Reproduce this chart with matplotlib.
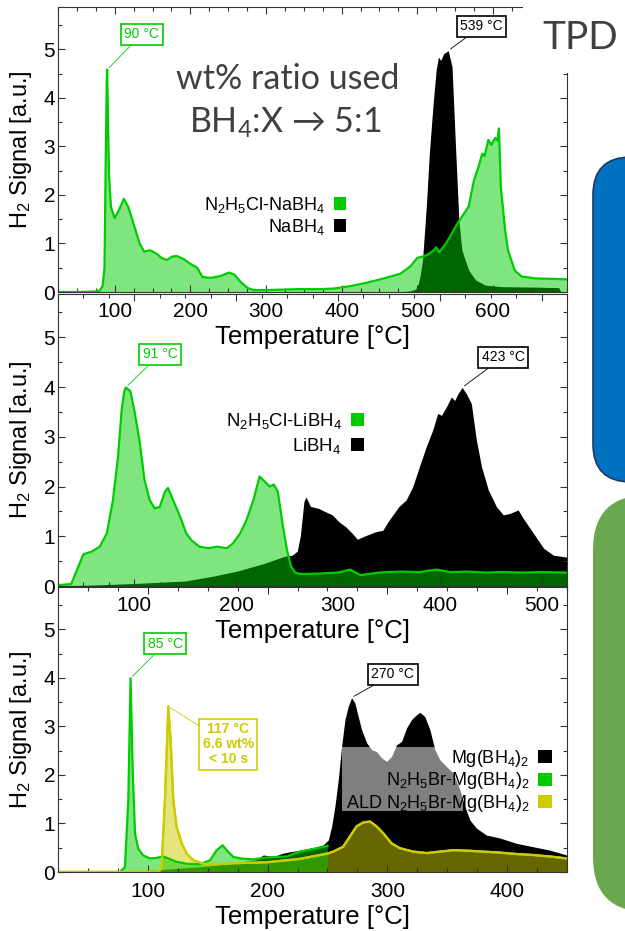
import numpy as np
import matplotlib
matplotlib.use("Agg")
from matplotlib import pyplot as plt
from matplotlib.patches import Rectangle, FancyBboxPatch, Patch
from matplotlib.ticker import MultipleLocator
from matplotlib.transforms import IdentityTransform

plt.rcParams['font.family'] = ['Liberation Sans', 'DejaVu Sans']
plt.rcParams['mathtext.default'] = 'regular'

# ---- data: (temperature [°C], H2 signal [a.u.]) ----
nabh4_hydrazine = [
    (25, 0.0), (50, 0.0), (75, 0.01), (80, 0.03), (84, 0.12), (86.5, 0.5), (88, 2.6),
    (89.5, 4.4), (90, 4.58), (91, 3.6), (92.5, 2.4), (95, 1.75), (100, 1.52), (106, 1.7),
    (112, 1.92), (118, 1.75), (127, 1.3), (133, 1.0), (139, 0.83), (147, 0.86), (156, 0.78),
    (162, 0.7), (169, 0.66), (176, 0.73), (182, 0.74), (191, 0.68), (200, 0.58), (209, 0.5),
    (216, 0.31), (227, 0.29), (240, 0.33), (251, 0.40), (258, 0.36), (267, 0.2), (276, 0.08),
    (284, 0.04), (302, 0.04), (324, 0.05), (344, 0.06), (373, 0.06), (389, 0.07), (411, 0.12),
    (433, 0.19), (456, 0.28), (478, 0.38), (491, 0.53), (500, 0.7), (507, 0.73), (514, 0.77),
    (522, 0.86), (525, 0.92), (529, 0.82), (538, 1.0), (546, 1.21), (552, 1.38), (559, 1.55),
    (568, 1.76), (575, 2.3), (581, 2.58), (586, 2.85), (589, 2.8), (594, 3.13), (598, 3.03),
    (603, 3.17), (606, 3.12), (608, 3.37), (610.5, 2.17), (616, 1.3), (620, 0.86), (629, 0.44),
    (638, 0.32), (656, 0.28), (678, 0.27), (700, 0.26),
]
nabh4 = [
    (25, 0.0), (470, 0.0), (490, 0.02), (498, 0.06), (501, 0.15), (504, 0.35), (507, 0.66),
    (512, 1.76), (516, 2.86), (521, 3.88), (525, 4.57), (528, 4.84), (531, 4.77), (535, 4.91),
    (541, 4.97), (546, 4.64), (550, 3.2), (555, 1.48), (559, 0.86), (568, 0.45), (577, 0.25),
    (590, 0.14), (612, 0.11), (656, 0.10), (687, 0.09), (690, 0.0),
]
libh4_hydrazine = [
    (25, 0.01), (27, 0.02), (38, 0.04), (45, 0.39), (50, 0.64), (58, 0.69), (66, 0.79),
    (73, 1.06), (79, 1.73), (84, 2.6), (87.5, 3.53), (90, 3.9), (91.5, 3.99), (96, 3.92),
    (100, 3.53), (105, 2.93), (110, 2.13), (115, 1.73), (120, 1.56), (125, 1.59), (130, 1.89),
    (133, 1.97), (138, 1.73), (145, 1.39), (151, 1.06), (156, 0.92), (164, 0.79), (173, 0.76),
    (181, 0.79), (191, 0.76), (197, 0.86), (204, 1.06), (210, 1.32), (217, 1.73), (223, 2.2),
    (228, 2.1), (233, 2.0), (237, 2.04), (241, 1.89), (246, 1.19), (250, 0.72), (254, 0.39),
    (258, 0.27), (263, 0.24), (282, 0.25), (300, 0.27), (312, 0.33), (322, 0.22), (340, 0.27),
    (361, 0.29), (380, 0.28), (397, 0.33), (410, 0.28), (427, 0.29), (445, 0.27), (460, 0.28),
    (480, 0.27), (500, 0.28), (525, 0.27),
]
libh4 = [
    (25, 0.0), (60, 0.02), (100, 0.05), (150, 0.1), (178, 0.2), (201, 0.3), (227, 0.45),
    (248, 0.6), (255, 0.62), (260, 0.7), (263, 1.0), (266.6, 1.7), (268.5, 1.79), (273, 1.6),
    (281, 1.56), (288, 1.49), (294.5, 1.43), (301, 1.29), (307.7, 1.19), (314, 1.06),
    (319, 0.94), (325.7, 1.0), (337, 1.09), (344, 1.12), (350.4, 1.33), (360, 1.6), (367, 1.73),
    (373.5, 2.0), (380, 2.4), (386.7, 2.8), (393, 3.13), (398, 3.47), (401.6, 3.43),
    (406.5, 3.6), (411.4, 3.8), (414.7, 3.73), (418, 3.87), (422, 3.99), (426, 3.87),
    (431, 3.67), (436, 2.93), (441, 2.4), (447.7, 1.93), (455.8, 1.59), (462.4, 1.43),
    (469, 1.46), (477, 1.53), (482, 1.36), (492, 1.06), (502, 0.76), (511.6, 0.62), (525, 0.58),
]
mg_hydrazine = [
    (25, 0.0), (76.8, 0.0), (80.9, 0.1), (83.7, 1.48), (85.6, 3.99), (87.3, 2.17), (89.3, 0.79),
    (92, 0.48), (96.2, 0.34), (101.8, 0.28), (107.4, 0.29), (112.4, 0.32), (117.1, 0.28),
    (124, 0.21), (132.4, 0.17), (143.5, 0.16), (151.9, 0.24), (157.5, 0.45), (162.5, 0.55),
    (165.8, 0.45), (171.4, 0.31), (176.9, 0.28), (188, 0.26), (199.2, 0.3), (215.9, 0.32),
    (227, 0.42), (243.7, 0.5), (250, 0.54),
]
mg_ald = [
    (25, 0.0), (105, 0.0), (110, 0.03), (111.5, 0.1), (114.3, 1.48), (117.1, 3.41), (119, 2.72),
    (121.3, 1.48), (124, 0.93), (128.3, 0.59), (132.4, 0.38), (138, 0.24), (146.3, 0.17),
    (157.5, 0.16), (171.3, 0.18), (199.2, 0.2), (227, 0.27), (250.1, 0.38), (254.8, 0.42),
    (263.1, 0.52), (268.7, 0.73), (274.3, 0.94), (279.8, 1.02), (285.4, 1.04), (291, 0.94),
    (296.5, 0.8), (303.5, 0.59), (310.5, 0.49), (321.6, 0.42), (332.8, 0.39), (343.9, 0.42),
    (355, 0.45), (366.2, 0.44), (380, 0.42), (394, 0.40), (407.9, 0.37), (421.8, 0.35),
    (435.7, 0.32), (449.6, 0.28),
]
mg = [
    (25, 0.0), (70, 0.0), (100, 0.03), (150, 0.12), (190, 0.25), (196.4, 0.35), (205, 0.32),
    (213.1, 0.39), (227, 0.45), (241, 0.52), (246.5, 0.56), (250.7, 0.66), (253.5, 0.94),
    (256.2, 1.35), (259, 1.9), (261.8, 2.59), (264.6, 3.14), (267.3, 3.41), (270.1, 3.59),
    (272.9, 3.48), (275.7, 3.2), (278.5, 2.93), (282.7, 2.66), (286.9, 2.52), (291, 2.48),
    (295.2, 2.35), (299.4, 2.28), (303.5, 2.38), (307.7, 2.62), (311.9, 2.69), (316.1, 2.97),
    (320.2, 3.14), (324.4, 3.24), (327.2, 3.29), (331.3, 3.2), (335.5, 2.93), (339.7, 2.52),
    (343.9, 2.31), (349.5, 2.17), (355, 2.04), (360.6, 1.69), (364.7, 1.35), (368.9, 1.07),
    (374.5, 0.9), (382.8, 0.76), (394, 0.70), (407.9, 0.59), (421.8, 0.52), (435.7, 0.45),
    (449.6, 0.35),
]

GREEN = '#00cc00'
YELLOW = '#cccc00'
GREY_TXT = '#404040'
W, H = 625, 931

fig = plt.figure(figsize=(W / 100, H / 100), dpi=100)


def make_axes(top, bottom, xmax, z):
    ax = fig.add_axes([58 / W, 1 - bottom / H, 509 / W, (bottom - top) / H])
    ax.set_zorder(z)
    ax.set_xlim(25, xmax)
    ax.set_ylim(0, 5.87)
    ax.xaxis.set_major_locator(MultipleLocator(100))
    ax.xaxis.set_minor_locator(MultipleLocator(25))
    ax.yaxis.set_major_locator(MultipleLocator(1))
    ax.yaxis.set_minor_locator(MultipleLocator(0.5))
    ax.tick_params(which='both', direction='in', top=True, right=True,
                   color='#333333', width=0.8, labelsize=15)
    ax.tick_params(which='major', length=5)
    ax.tick_params(which='minor', length=3)
    ax.tick_params(axis='x', pad=7.5)
    ax.tick_params(axis='y', pad=2)
    for s in ax.spines.values():
        s.set_linewidth(0.8)
        s.set_color('#333333')
    ax.set_xlabel('Temperature [°C]', fontsize=18.5)
    ax.xaxis.set_label_coords(0.5, -33 / (bottom - top))
    ax.set_ylabel('H$_2$ Signal [a.u.]', fontsize=17)
    ax.yaxis.set_label_coords(-37 / 509, 0.5)
    ax.yaxis.label.set_verticalalignment('center')
    return ax


def area(ax, data, color, alpha, line=True):
    t, v = np.array(data).T
    ax.fill_between(t, 0, v, color=color, alpha=alpha, lw=0)
    if line:
        ax.plot(t, v, color=color, lw=1.6)


def peak_label(ax, data, text, dx, dy, color, bold=False):
    t, v = np.array(data).T
    i = np.argmax(v)
    ax.annotate(text, xy=(t[i], v[i]), xytext=(dx, dy), textcoords='offset points',
                ha='center', va='center', fontsize=10, color=color,
                fontweight='bold' if bold else 'normal', linespacing=1.1,
                bbox=dict(boxstyle='square,pad=0.25', fc='white', ec=color, lw=1.2),
                arrowprops=dict(arrowstyle='-', color=color, lw=0.6, shrinkA=0, shrinkB=2),
                zorder=6)


def squares(ax, labels, colors, anchor, fs, spacing, hl):
    handles = [Patch(facecolor=c, edgecolor='none') for c in colors]
    ax.legend(handles, labels, loc='upper right', bbox_to_anchor=anchor,
              frameon=False, markerfirst=False, fontsize=fs, handlelength=hl,
              handleheight=hl, handletextpad=0.5, labelspacing=spacing,
              borderpad=0, borderaxespad=0).set_zorder(7)


# panel 1: NaBH4
ax1 = make_axes(7, 292, 698, 3)
area(ax1, nabh4, 'black', 1.0, line=False)
area(ax1, nabh4_hydrazine, GREEN, 0.5)
peak_label(ax1, nabh4_hydrazine, '90 °C', 25, 25.6, GREEN)
peak_label(ax1, nabh4, '539 °C', 23.8, 17.6, 'black')
squares(ax1, ['N$_2$H$_5$Cl-NaBH$_4$', 'NaBH$_4$'], [GREEN, 'black'],
        (288 / 509, 97 / 285), 13, 0.1, 0.68)

# panel 2: LiBH4
ax2 = make_axes(294, 586, 525, 2)
area(ax2, libh4, 'black', 1.0, line=False)
area(ax2, libh4_hydrazine, GREEN, 0.5)
peak_label(ax2, libh4_hydrazine, '91 °C', 24.7, 24, GREEN)
peak_label(ax2, libh4, '423 °C', 29.5, 21.8, 'black')
squares(ax2, ['N$_2$H$_5$Cl-LiBH$_4$', 'LiBH$_4$'], [GREEN, 'black'],
        (306 / 509, 175 / 292), 13.4, 0.25, 0.7)

# panel 3: Mg(BH4)2
ax3 = make_axes(587, 872, 450, 1)
area(ax3, mg, 'black', 1.0, line=False)
area(ax3, mg_ald, YELLOW, 0.5)
area(ax3, mg_hydrazine, GREEN, 0.5)
t, v = np.array(mg_ald).T
ax3.plot(t, v, color=YELLOW, lw=1.6)
ax3.add_patch(Rectangle((0.558, 0.214), 0.238, 0.225, transform=ax3.transAxes,
                        fc='white', alpha=0.5, ec='none', zorder=4))
peak_label(ax3, mg_hydrazine, '85 °C', 24.8, 24.8, GREEN)
peak_label(ax3, mg_ald, '117 °C\n6.6 wt%\n< 10 s', 43.3, -27.1, YELLOW, bold=True)
peak_label(ax3, mg, '270 °C', 29.8, 16.9, 'black')
squares(ax3, ['Mg(BH$_4$)$_2$', 'N$_2$H$_5$Br-Mg(BH$_4$)$_2$', 'ALD N$_2$H$_5$Br-Mg(BH$_4$)$_2$'],
        ['black', GREEN, YELLOW], (494 / 509, 124 / 285), 13, 0.08, 0.75)

# slide decorations around the chart
fig.add_artist(Rectangle((523, H - 73), 110, 80, transform=IdentityTransform(),
                         fc='white', ec='none', zorder=10))
fig.text(580 / W, 1 - 38 / H, 'TPD', ha='center', va='center', fontsize=28,
         color=GREY_TXT, family=['Lato', 'DejaVu Sans'], zorder=11)
fig.text(288 / W, 1 - 79 / H, 'wt% ratio used', ha='center', va='center', fontsize=24.5,
         color=GREY_TXT, family=['Lato', 'DejaVu Sans'], zorder=11)
fig.text(285 / W, 1 - 123 / H, 'BH$_4$:X → 5:1', ha='center', va='center', fontsize=24.5,
         color=GREY_TXT, family=['Lato', 'DejaVu Sans'], zorder=11)
fig.add_artist(FancyBboxPatch((593, H - 482), 120, 325, transform=IdentityTransform(),
                              boxstyle='round,pad=0,rounding_size=38',
                              fc='#0070c0', ec='#1f3864', lw=1.2, zorder=10))
fig.add_artist(FancyBboxPatch((593, H - 912), 120, 417, transform=IdentityTransform(),
                              boxstyle='round,pad=0,rounding_size=55',
                              fc='#6aa84f', ec='none', zorder=10))

fig.savefig('out.png', dpi=100, facecolor='white')
